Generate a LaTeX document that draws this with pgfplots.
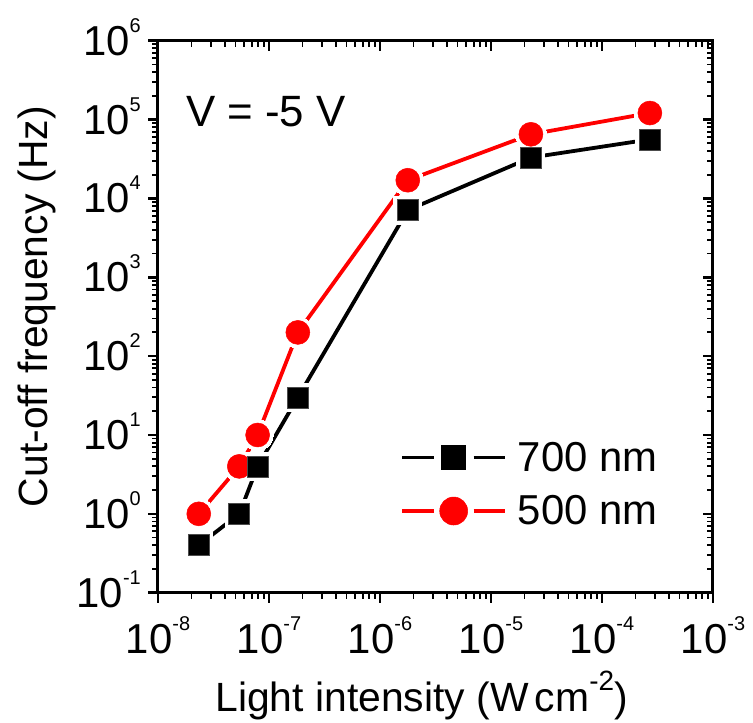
\documentclass[border=0pt]{standalone}
\usepackage{fontspec}
\setmainfont{Liberation Sans}
\usepackage{pgfplots}
\usepackage{pgfplotstable}
\pgfplotsset{compat=1.18}
\newcommand{\sci}[1]{10\raisebox{23bp}{\fontsize{20}{20}\selectfont #1}}
\pgfplotsset{legend image code/.code={%
  \draw[#1] (0bp,0bp) -- (31.5bp,0bp);
  \draw[#1] (71.5bp,0bp) -- (103bp,0bp);
  \draw[#1] plot coordinates {(51.5bp,0bp)};}}
\pgfplotstableread{
x y
2.33e-8 0.40
5.4e-8 1.0
7.9e-8 4.0
1.82e-7 30
1.78e-6 7.1e3
2.29e-5 3.3e4
2.7e-4 5.6e4
}\dataA
\pgfplotstableread{
x y
2.33e-8 1.0
5.4e-8 4.0
7.9e-8 10
1.82e-7 200
1.78e-6 1.7e4
2.29e-5 6.5e4
2.7e-4 1.21e5
}\dataB
\begin{document}
\begin{tikzpicture}
\begin{axis}[
  width=555bp, height=552bp, scale only axis,
  xmode=log, ymode=log,
  xmin=1e-8, xmax=1e-3, ymin=1e-1, ymax=1e6,
  xtick={1e-8,1e-7,1e-6,1e-5,1e-4,1e-3},
  ytick={1e-1,1e0,1e1,1e2,1e3,1e4,1e5,1e6},
  major tick length=10bp, minor tick length=6bp,
  major tick style={line width=2.6bp,black},
  minor tick style={line width=1.8bp,black},
  axis line style={line width=3bp},
  tick align=outside, xtick pos=left, ytick pos=left,
  ticklabel style={font=\fontsize{42}{46}\selectfont},
  xticklabels={\sci{-8},\sci{-7},\sci{-6},\sci{-5},\sci{-4},\sci{-3}},
  yticklabels={\sci{-1},\sci{0},\sci{1},\sci{2},\sci{3},\sci{4},\sci{5},\sci{6}},
  xticklabel style={inner sep=0pt, anchor=north, yshift=-14bp},
  yticklabel style={inner sep=0pt, anchor=east, xshift=-7bp, yshift=3.7bp},
  legend style={draw=none, fill=none, at={(axis description cs:0.431,0.1966)}, anchor=west,
    font=\fontsize{42}{46}\selectfont, row sep=19bp, column sep=9bp,
    cells={anchor=west}},
]
\addlegendimage{black, line width=3.6bp, mark=square*, mark size=12bp, mark options={fill=black, draw=black, line width=0.5bp}}
\addlegendentry{700 nm}
\addlegendimage{red, line width=3.6bp, mark=*, mark size=14bp, mark options={fill=red, draw=red, line width=0.5bp}}
\addlegendentry{500 nm}
% lines
\addplot[black, line width=3.8bp, no marks, forget plot] table[x=x,y=y] {\dataA};
\addplot[red, line width=3.8bp, no marks, forget plot] table[x=x,y=y] {\dataB};
% gaps round the symbols
\addplot[white, only marks, mark=*, mark size=15.5bp, mark options={fill=white, draw=white, line width=0pt}, forget plot] table[x=x,y=y] {\dataB};
\addplot[white, only marks, mark=square*, mark size=14bp, mark options={fill=white, draw=white, line width=0pt}, forget plot] table[x=x,y=y] {\dataA};
% symbols
\addplot[red, only marks, mark=*, mark size=12bp, mark options={fill=red, draw=red, line width=0.5bp}, forget plot] table[x=x,y=y] {\dataB};
\addplot[black, only marks, mark=square*, mark size=10.5bp, mark options={fill=black, draw=black!70, line width=0.6bp}, forget plot] table[x=x,y=y] {\dataA};
\node[anchor=base west, inner sep=0pt, font=\fontsize{44}{48}\selectfont] at (rel axis cs:0.0505,0.8437) {V = -5 V};
\end{axis}
\begin{axis}[
  width=555bp, height=552bp, scale only axis,
  xmode=log, ymode=log,
  xmin=1e-8, xmax=1e-3, ymin=1e-1, ymax=1e6,
  xtick={1e-8,1e-7,1e-6,1e-5,1e-4,1e-3},
  ytick={1e-1,1e0,1e1,1e2,1e3,1e4,1e5,1e6},
  major tick length=10bp, minor tick length=6bp,
  major tick style={line width=2.6bp,black},
  minor tick style={line width=1.8bp,black},
  axis line style={draw=none},
  tick align=inside, xtick pos=right, ytick pos=right,
  xticklabels={}, yticklabels={},
]
\end{axis}
\node[anchor=base, inner sep=0pt, font=\fontsize{41}{45}\selectfont] at (263.6bp,-119bp)
  {Light intensity (W\hspace{0.15em}cm\raisebox{21bp}{\fontsize{28}{28}\selectfont -2})};
\node[anchor=center, rotate=90, inner sep=0pt, font=\fontsize{41}{45}\selectfont] at (-121bp,286.2bp)
  {Cut-off frequency (Hz)};
\pgfresetboundingbox
\path[use as bounding box] (-158bp,-130.3bp) rectangle (595bp,592.7bp);
\end{tikzpicture}
\end{document}
